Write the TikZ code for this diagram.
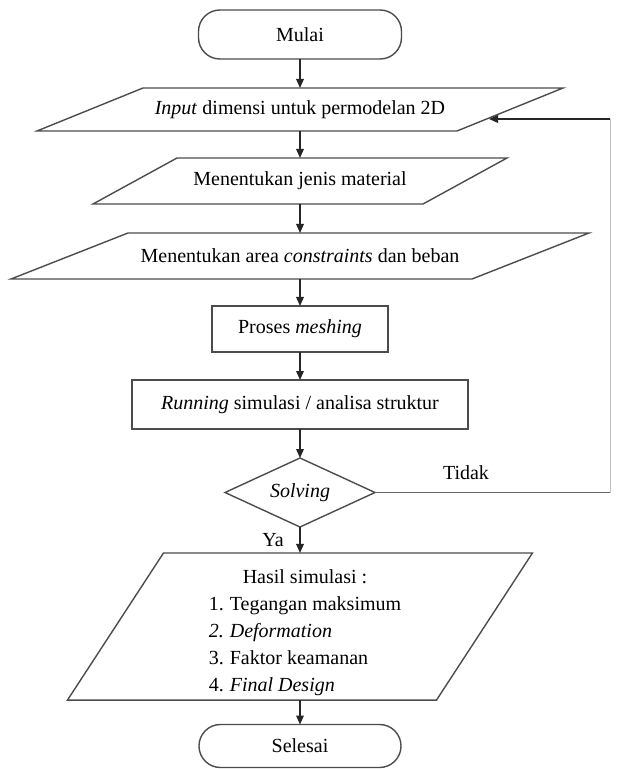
\documentclass[tikz,border=0pt]{standalone}
\usepackage{fontspec}
\setmainfont{Liberation Serif}
\usetikzlibrary{arrows.meta}
\begin{document}
\begin{tikzpicture}[x=0.5pt,y=-0.5pt,
  font=\fontsize{10pt}{12pt}\selectfont,
  shp/.style={draw=black!70, line width=0.7pt},
  box/.style={inner sep=0pt, outer sep=0pt, align=center},
  term/.style={box, draw=black!70, line width=0.7pt, rounded corners=10.7pt},
  proc/.style={box, draw=black!70, line width=0.7pt},
  conn/.style={draw=black!85, line width=0.7pt, -{Triangle[length=4.5pt,width=3.8pt]}},
  loopline/.style={draw=black!60, line width=0.7pt},
  faintline/.style={draw=black!25, line width=0.5pt},
  lbl/.style={inner sep=0pt}
]
\useasboundingbox (0,0) rectangle (616,769);

% terminal start
\node[term, minimum width=101.5pt, minimum height=24.5pt] (mulai) at (300,34.5) {Mulai};

% parallelogram 1
\node[box, minimum width=210pt, minimum height=21.5pt] (input) at (300,109.5) {\textit{Input} dimensi untuk permodelan 2D};
\draw[shp] ([xshift=26.5pt]input.north west) -- ([xshift=26.5pt]input.north east) -- ([xshift=-26.5pt]input.south east) -- ([xshift=-26.5pt]input.south west) -- cycle;

% parallelogram 2
\node[box, minimum width=165pt, minimum height=23pt] (material) at (300,181) {Menentukan jenis material};
\draw[shp] ([xshift=21pt]material.north west) -- ([xshift=21pt]material.north east) -- ([xshift=-21pt]material.south east) -- ([xshift=-21pt]material.south west) -- cycle;

% parallelogram 3
\node[box, minimum width=230.5pt, minimum height=23pt] (constr) at (300,256) {Menentukan area \textit{constraints} dan beban};
\draw[shp] ([xshift=29.25pt]constr.north west) -- ([xshift=29.25pt]constr.north east) -- ([xshift=-29.25pt]constr.south east) -- ([xshift=-29.25pt]constr.south west) -- cycle;

% process boxes
\node[proc, minimum width=88pt, minimum height=23pt] (mesh) at (300,329) {Proses \textit{meshing}};
\node[proc, minimum width=168pt, minimum height=24.5pt] (run) at (300,404.5) {\textit{Running} simulasi / analisa struktur};

% decision
\node[box, minimum width=75pt, minimum height=34.5pt] (dec) at (300,492.5) {\textit{Solving}};
\draw[shp] (dec.north) -- (dec.east) -- (dec.south) -- (dec.west) -- cycle;

% output parallelogram
\node[box, minimum width=184.5pt, minimum height=71.5pt] (hasil) at (300,626.5) {\hspace*{5pt}\def\arraystretch{1.125}\begin{tabular}{@{}p{10.5pt}@{}l@{}}
\multicolumn{2}{c}{\rule{0pt}{15.5pt}Hasil simulasi :}\\
1. & Tegangan maksimum\\
\textit{2.} & \textit{Deformation}\\
3. & Faktor keamanan\\
4. & \textit{Final Design}
\end{tabular}};
\draw[shp] ([xshift=24pt]hasil.north west) -- ([xshift=24pt]hasil.north east) -- ([xshift=-24pt]hasil.south east) -- ([xshift=-24pt]hasil.south west) -- cycle;

% terminal end
\node[term, minimum width=101pt, minimum height=21.5pt] (selesai) at (300,746) {Selesai};

% labels
\node[lbl] (tidak) at (466,473) {Tidak};
\node[lbl] (ya) at (273,540) {Ya};

% connectors
\draw[conn] (mulai.south) -- (input.north);
\draw[conn] (input.south) -- (material.north);
\draw[conn] (material.south) -- (constr.north);
\draw[conn] (constr.south) -- (mesh.north);
\draw[conn] (mesh.south) -- (run.north);
\draw[conn] (run.south) -- (dec.north);
\draw[conn] (dec.south) -- (hasil.north);
\draw[conn] (hasil.south) -- (selesai.north);

% feedback loop
\coordinate (fbx) at (610,0);
\coordinate (fbin) at (489,119);
\coordinate (fblow) at (610,492.5);
\coordinate (fbhigh) at (610,119);
\draw[loopline] (dec.east) -- (fblow);
\draw[faintline] (fblow) -- (fbhigh);
\draw[conn] (fbhigh) -- (fbin);
\end{tikzpicture}
\end{document}
